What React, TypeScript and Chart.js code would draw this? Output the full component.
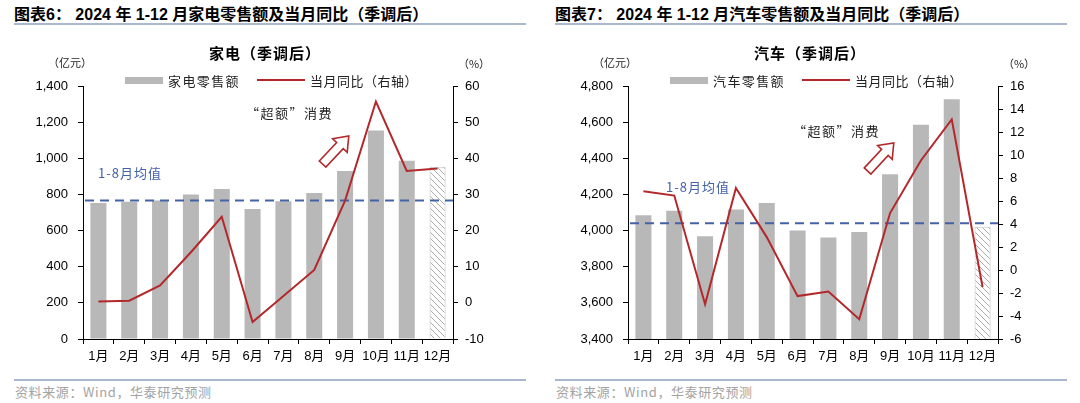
import React, { useEffect, useRef } from "react";
import { Chart, registerables } from "chart.js";

Chart.register(...registerables);

// ---------- data ----------
const months = ["1月", "2月", "3月", "4月", "5月", "6月", "7月", "8月", "9月", "10月", "11月", "12月"];

const applianceSales = [753, 760, 766, 799, 830, 720, 762, 808, 929, 1154, 986, 953];
const applianceYoY = [0.4, 0.6, 4.8, 14.0, 23.8, -5.3, 1.9, 9.1, 28.3, 55.7, 36.5, 37.2];
const applianceAvg = 766;
const applianceLeftTicks = { min: 0, max: 1400, step: 200 };
const applianceRightTicks = { min: -10, max: 60, step: 10 };

const autoSales = [4085, 4109, 3968, 4117, 4152, 4001, 3962, 3992, 4312, 4586, 4726, 4021];
const autoYoY = [6.84, 6.47, -2.98, 7.13, 2.86, -2.27, -1.87, -4.28, 4.95, 9.52, 13.1, -1.49];
const autoAvg = 4041;
const autoLeftTicks = { min: 3400, max: 4800, step: 200 };
const autoRightTicks = { min: -6, max: 16, step: 2 };

// annotation arrows in data coordinates (category index, left-axis value)
const applianceArrow = { from: [7.27, 968], to: [8.12, 1123] };
const autoArrow = { from: [7.27, 4330], to: [8.12, 4485] };

// ---------- styles ----------
const RED = "#b3282b";
const BAR_GRAY = "#b8b8b8";
const AVG_BLUE = "#4462a8";
const NUM_FONT = '"Liberation Sans", "Noto Sans CJK SC", sans-serif';
const CJK_FONT = '"Noto Sans CJK SC", "Liberation Sans", sans-serif';

function makeHatch(): CanvasPattern | string {
  const c = document.createElement("canvas");
  c.width = 6;
  c.height = 6;
  const g = c.getContext("2d");
  if (!g) return "#ffffff";
  g.fillStyle = "#ffffff";
  g.fillRect(0, 0, 6, 6);
  g.strokeStyle = "#ababab";
  g.lineWidth = 1;
  g.beginPath();
  g.moveTo(-1, -1);
  g.lineTo(7, 7);
  g.moveTo(-4, 2);
  g.lineTo(4, 10);
  g.moveTo(2, -4);
  g.lineTo(10, 4);
  g.stroke();
  return g.createPattern(c, "repeat") || "#ffffff";
}

function drawArrow(ctx: CanvasRenderingContext2D, x0: number, y0: number, x1: number, y1: number) {
  const ang = Math.atan2(y1 - y0, x1 - x0);
  const len = Math.hypot(x1 - x0, y1 - y0);
  const headLen = 13;
  const headW = 10;
  const shaftW = 4.5;
  ctx.save();
  ctx.translate(x0, y0);
  ctx.rotate(ang);
  ctx.beginPath();
  ctx.moveTo(0, -shaftW);
  ctx.lineTo(len - headLen, -shaftW);
  ctx.lineTo(len - headLen, -headW);
  ctx.lineTo(len, 0);
  ctx.lineTo(len - headLen, headW);
  ctx.lineTo(len - headLen, shaftW);
  ctx.lineTo(0, shaftW);
  ctx.closePath();
  ctx.fillStyle = "#ffffff";
  ctx.fill();
  ctx.strokeStyle = RED;
  ctx.lineWidth = 1.6;
  ctx.lineJoin = "miter";
  ctx.stroke();
  ctx.restore();
}

type ChartProps = {
  sales: number[];
  yoy: number[];
  avg: number;
  left: { min: number; max: number; step: number };
  right: { min: number; max: number; step: number };
  arrow: { from: number[]; to: number[] };
  salesLabel: string;
};

const CANVAS_W = 535;
const CANVAS_H = 403;

function ComboChart(props: ChartProps) {
  const ref = useRef<HTMLCanvasElement | null>(null);
  useEffect(() => {
    if (!ref.current) return;
    const { sales, yoy, avg, left, right, arrow, salesLabel } = props;
    const hatch = makeHatch();
    const last = sales.length - 1;
    const bg = sales.map((_, i) => (i === last ? hatch : BAR_GRAY));
    const borders = sales.map((_, i) => (i === last ? "#c2c2c2" : "rgba(0,0,0,0)"));
    const bw = sales.map((_, i) => (i === last ? 1 : 0));

    const overlay = {
      id: "overlay",
      afterDatasetDraw(chart: any, args: any) {
        if (args.index !== 0) return;
        const { ctx, chartArea } = chart;
        const y = chart.scales.y.getPixelForValue(avg);
        ctx.save();
        ctx.strokeStyle = AVG_BLUE;
        ctx.lineWidth = 2;
        ctx.setLineDash([9, 6]);
        ctx.beginPath();
        ctx.moveTo(chartArea.left + 2, y);
        ctx.lineTo(chartArea.right, y);
        ctx.stroke();
        ctx.restore();
      },
      afterDatasetsDraw(chart: any) {
        const xs = chart.scales.x;
        const ys = chart.scales.y;
        drawArrow(
          chart.ctx,
          xs.getPixelForValue(arrow.from[0]),
          ys.getPixelForValue(arrow.from[1]),
          xs.getPixelForValue(arrow.to[0]),
          ys.getPixelForValue(arrow.to[1])
        );
      },
    };

    const tickFont = { family: NUM_FONT, size: 13 };
    const chart = new Chart(ref.current, {
      type: "bar",
      data: {
        labels: months,
        datasets: [
          {
            type: "bar",
            label: salesLabel,
            data: sales,
            yAxisID: "y",
            backgroundColor: bg as any,
            borderColor: borders,
            borderWidth: bw,
            barPercentage: 0.52,
            categoryPercentage: 1,
            order: 2,
          },
          {
            type: "line",
            label: "当月同比（右轴）",
            data: yoy,
            yAxisID: "y1",
            borderColor: RED,
            backgroundColor: RED,
            borderWidth: 2,
            pointRadius: 0,
            tension: 0,
            fill: false,
            order: 1,
          },
        ],
      } as any,
      options: {
        responsive: false,
        animation: false,
        devicePixelRatio: 1,
        layout: { padding: { top: 86, left: 0, right: 0, bottom: 0 } },
        plugins: {
          legend: { display: false },
          title: { display: false },
          tooltip: { enabled: false },
        },
        scales: {
          x: {
            offset: true,
            grid: {
              display: true,
              offset: true,
              drawOnChartArea: false,
              drawTicks: true,
              tickLength: 5,
              color: "#000",
            },
            border: { display: true, color: "#000", width: 1 },
            ticks: { color: "#000", font: tickFont, padding: 5, autoSkip: false, maxRotation: 0 },
            afterFit: (s: any) => {
              s.height = 64;
            },
          },
          y: {
            position: "left",
            min: left.min,
            max: left.max,
            ticks: { stepSize: left.step, color: "#000", font: tickFont, padding: 10 },
            grid: { drawOnChartArea: false, drawTicks: true, tickLength: 5, color: "#000" },
            border: { display: true, color: "#000", width: 1 },
            afterFit: (s: any) => {
              s.width = 83;
            },
          },
          y1: {
            position: "right",
            min: right.min,
            max: right.max,
            ticks: { stepSize: right.step, color: "#000", font: tickFont, padding: 7 },
            grid: { drawOnChartArea: false, drawTicks: true, tickLength: 5, color: "#000" },
            border: { display: true, color: "#000", width: 1 },
            afterFit: (s: any) => {
              s.width = CANVAS_W - 453;
            },
          },
        },
      } as any,
      plugins: [overlay],
    });
    return () => chart.destroy();
  }, []);
  return (
    <canvas
      ref={ref}
      width={CANVAS_W}
      height={CANVAS_H}
      style={{ position: "absolute", left: 0, top: 0, width: CANVAS_W, height: CANVAS_H }}
    />
  );
}

function Txt(p: {
  x: number;
  y: number;
  children: React.ReactNode;
  size?: number;
  color?: string;
  bold?: boolean;
  ls?: number;
  align?: "left" | "center";
  font?: string;
}) {
  const tx = p.align === "center" ? "-50%" : "0";
  return (
    <div
      style={{
        position: "absolute",
        left: p.x,
        top: p.y,
        transform: `translate(${tx}, -50%)`,
        whiteSpace: "nowrap",
        fontFamily: p.font || CJK_FONT,
        fontSize: p.size || 13,
        fontWeight: p.bold ? 700 : 400,
        color: p.color || "#000",
        letterSpacing: p.ls || 0,
        lineHeight: 1,
      }}
    >
      {p.children}
    </div>
  );
}

type PanelProps = {
  offset: number;
  headOffset: number;
  header: string;
  title: string;
  salesLabel: string;
  sales: number[];
  yoy: number[];
  avg: number;
  left: { min: number; max: number; step: number };
  right: { min: number; max: number; step: number };
  arrow: { from: number[]; to: number[] };
  avgLabelPos: [number, number];
  noteLabelPos: [number, number];
};

function Panel(p: PanelProps) {
  const hx = p.headOffset;
  return (
    <>
      {/* header */}
      <Txt x={hx} y={15} size={16} bold font={NUM_FONT}>
        {p.header}
      </Txt>
      <div style={{ position: "absolute", left: hx, top: 23, width: 512, height: 1.5, background: "#a9b7cf" }} />
      {/* footer */}
      <div style={{ position: "absolute", left: hx, top: 379, width: 512, height: 1.5, background: "#a9b7cf" }} />
      <Txt x={hx + 1} y={391} size={13} color="#a3a3a3" ls={0.6} font={CJK_FONT}>
        资料来源：Wind，华泰研究预测
      </Txt>
      {/* chart */}
      <div style={{ position: "absolute", left: p.offset, top: 0, width: CANVAS_W, height: CANVAS_H }}>
        <ComboChart
          sales={p.sales}
          yoy={p.yoy}
          avg={p.avg}
          left={p.left}
          right={p.right}
          arrow={p.arrow}
          salesLabel={p.salesLabel}
        />
        <Txt x={265} y={52} size={15} bold ls={1} align="center">
          {p.title}
        </Txt>
        <Txt x={70} y={62} size={11} align="center" color="#222">
          （亿元）
        </Txt>
        <Txt x={474} y={63} size={11} align="center" color="#222">
          （%）
        </Txt>
        {/* legend */}
        <div style={{ position: "absolute", left: 125, top: 77, width: 38, height: 7, background: BAR_GRAY }} />
        <Txt x={168} y={80} size={13} ls={1.4} color="#222">
          {p.salesLabel}
        </Txt>
        <div style={{ position: "absolute", left: 257, top: 79, width: 48, height: 2, background: RED }} />
        <Txt x={310} y={80} size={13} ls={0.5} color="#222">
          当月同比（右轴）
        </Txt>
        {/* annotations */}
        <Txt x={p.avgLabelPos[0]} y={p.avgLabelPos[1]} size={13} ls={1} color={AVG_BLUE}>
          1-8月均值
        </Txt>
        <Txt x={p.noteLabelPos[0]} y={p.noteLabelPos[1]} size={13} ls={1.5} color="#222">
          “超额”消费
        </Txt>
      </div>
    </>
  );
}

export default function App() {
  return (
    <div
      style={{
        position: "fixed",
        left: 0,
        top: 0,
        width: 1080,
        height: 403,
        background: "#fff",
        overflow: "hidden",
      }}
    >
      <Panel
        offset={0}
        headOffset={14}
        header="图表6：  2024 年 1-12 月家电零售额及当月同比（季调后）"
        title="家电（季调后）"
        salesLabel="家电零售额"
        sales={applianceSales}
        yoy={applianceYoY}
        avg={applianceAvg}
        left={applianceLeftTicks}
        right={applianceRightTicks}
        arrow={applianceArrow}
        avgLabelPos={[98, 172]}
        noteLabelPos={[246, 112]}
      />
      <Panel
        offset={545}
        headOffset={555}
        header="图表7：  2024 年 1-12 月汽车零售额及当月同比（季调后）"
        title="汽车（季调后）"
        salesLabel="汽车零售额"
        sales={autoSales}
        yoy={autoYoY}
        avg={autoAvg}
        left={autoLeftTicks}
        right={autoRightTicks}
        arrow={autoArrow}
        avgLabelPos={[121, 186]}
        noteLabelPos={[248, 130]}
      />
    </div>
  );
}
